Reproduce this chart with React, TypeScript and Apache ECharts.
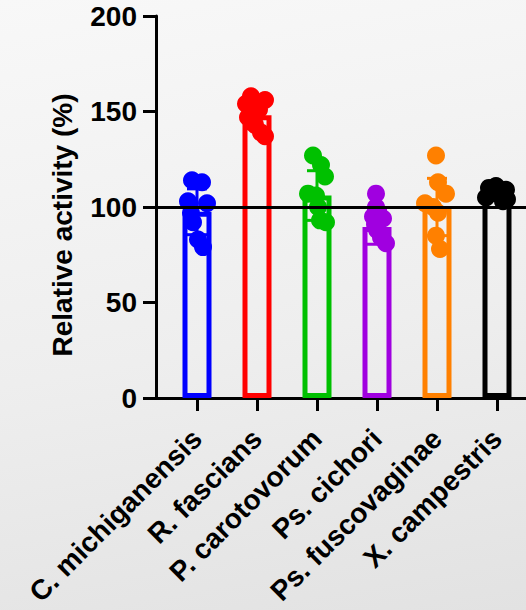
import React, { useEffect, useRef } from "react";
import * as echarts from "echarts";

const categories = [
  "C. michiganensis",
  "R. fascians",
  "P. carotovorum",
  "Ps. cichori",
  "Ps. fuscovaginae",
  "X. campestris",
];
const colors = ["#0000ff", "#ff0000", "#00c000", "#a000e0", "#ff8000", "#000000"];
const means = [97.5, 148, 106, 89.5, 100, 106.5];
const sds = [12, 7, 13, 9, 15, 3];

const pointsCMichiganensis = [114, 113, 103, 102, 97, 92, 83, 79];
const pointsRFascians = [158, 156, 154, 151, 147, 143, 139, 137];
const pointsPCarotovorum = [127, 122, 116, 107, 106, 100, 93, 92];
const pointsPsCichori = [107, 100, 95, 94, 91, 88, 84, 81];
const pointsPsFuscovaginae = [127, 113, 107, 102, 100, 97, 85, 78];
const pointsXCampestris = [111, 110, 109, 108, 106, 105, 104, 103];
const groups = [
  pointsCMichiganensis,
  pointsRFascians,
  pointsPCarotovorum,
  pointsPsCichori,
  pointsPsFuscovaginae,
  pointsXCampestris,
];

const yTicks = [0, 50, 100, 150, 200];
const referenceLevel = 100;

// horizontal spread of dots (pixels), styling only
const jitterPx = [
  [-5, 5, -9, 10, -6, -4, 1, 6],
  [-6, 8, -11, 2, -9, -2, 4, 8],
  [-4, 4, 8, -9, -1, 1, 3, 9],
  [-1, -1, -4, 6, -2, 0, 4, 9],
  [-1, 1, 9, -12, -4, 1, -1, 3],
  [-1, -8, 9, -4, 4, -11, 10, 6],
];

const BAND_PX = 60;
const GRID_LEFT = 156;
const GRID_WIDTH = 370;
const FIRST_CENTER_PX = 41;
const X_MIN = -FIRST_CENTER_PX / BAND_PX;
const X_MAX = X_MIN + GRID_WIDTH / BAND_PX;
const FONT = "'Liberation Sans', Arial, sans-serif";

export default function App() {
  const ref = useRef<HTMLDivElement>(null);
  useEffect(() => {
    document.body.style.margin = "0";
    const chart = echarts.init(ref.current!, null, { renderer: "svg" });
    const idx = categories.map((_, i) => i);

    const scatterSeries = groups.map((pts, gi) => ({
      type: "scatter",
      symbol: "circle",
      symbolSize: 18,
      z: 4,
      itemStyle: { color: colors[gi], opacity: 1 },
      data: pts.map((v, k) => [gi + jitterPx[gi][k] / BAND_PX, v]),
    }));

    chart.setOption({
      animation: false,
      grid: { left: GRID_LEFT, width: GRID_WIDTH, top: 16, bottom: 212 },
      xAxis: {
        type: "value",
        min: X_MIN,
        max: X_MAX,
        splitLine: { show: false },
        axisLine: { show: true, onZero: false, lineStyle: { color: "#000", width: 3 } },
        axisTick: { show: true, customValues: idx, length: 13, lineStyle: { color: "#000", width: 3 } },
        axisLabel: {
          customValues: idx,
          rotate: 45,
          margin: 36,
          color: "#000",
          fontSize: 28,
          fontWeight: "bold",
          fontFamily: FONT,
          formatter: (v: number) => categories[Math.round(v)] ?? "",
        },
      },
      yAxis: {
        type: "value",
        min: yTicks[0],
        max: yTicks[yTicks.length - 1],
        interval: yTicks[1] - yTicks[0],
        splitLine: { show: false },
        axisLine: { show: true, onZero: false, lineStyle: { color: "#000", width: 3 } },
        axisTick: { show: true, length: 13, lineStyle: { color: "#000", width: 3 } },
        axisLabel: {
          color: "#000",
          fontSize: 28,
          fontWeight: "bold",
          fontFamily: FONT,
          margin: 19,
        },
      },
      graphic: [
        {
          type: "text",
          x: 62,
          y: 225,
          rotation: Math.PI / 2,
          style: {
            text: "Relative activity (%)",
            font: `bold 28px ${FONT}`,
            fill: "#000",
            textAlign: "center",
            textVerticalAlign: "middle",
          },
        },
      ],
      series: [
        {
          type: "bar",
          barWidth: 29,
          z: 2,
          data: means.map((m, i) => ({
            value: [i, m],
            itemStyle: { color: "rgba(0,0,0,0)", borderColor: colors[i], borderWidth: 5 },
          })),
        },
        {
          type: "custom",
          z: 3,
          data: means.map((m, i) => [i, m, sds[i]]),
          encode: { x: 0, y: 1 },
          renderItem: (params: any, api: any) => {
            const x = api.value(0);
            const m = api.value(1);
            const s = api.value(2);
            const c = colors[params.dataIndex];
            const top = api.coord([x, m + s]);
            const bot = api.coord([x, m - s]);
            const half = 10;
            const st = { stroke: c, lineWidth: 3 };
            return {
              type: "group",
              children: [
                { type: "line", shape: { x1: top[0], y1: top[1], x2: bot[0], y2: bot[1] }, style: st },
                { type: "line", shape: { x1: top[0] - half, y1: top[1], x2: top[0] + half, y2: top[1] }, style: st },
                { type: "line", shape: { x1: bot[0] - half, y1: bot[1], x2: bot[0] + half, y2: bot[1] }, style: st },
              ],
            };
          },
        },
        ...scatterSeries,
        {
          type: "line",
          z: 10,
          data: [],
          markLine: {
            silent: true,
            symbol: ["none", "none"],
            label: { show: false },
            lineStyle: { color: "#000", width: 3, type: "solid" },
            data: [{ yAxis: referenceLevel }],
          },
        },
      ],
    });
    return () => chart.dispose();
  }, []);
  return (
    <div
      ref={ref}
      style={{
        position: "fixed",
        left: 0,
        top: 0,
        width: 526,
        height: 610,
        background: "linear-gradient(170deg, #f8f8f8 0%, #eeeeee 55%, #e2e2e2 100%)",
      }}
    />
  );
}
